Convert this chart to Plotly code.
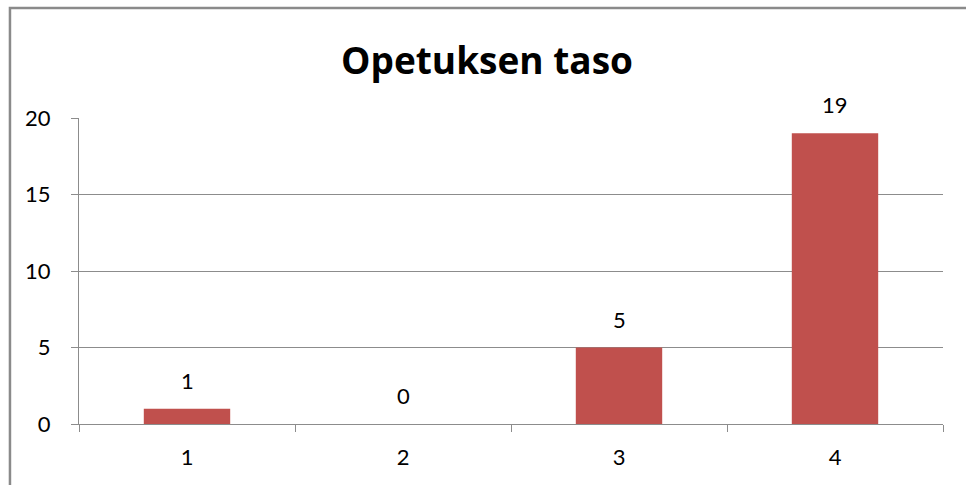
import plotly.graph_objects as go

categories = ["1", "2", "3", "4"]
values = [1, 0, 5, 19]
y_ticks = [0, 5, 10, 15, 20]

BAR = "#c0504d"
GRID = "#8c8c8c"
FONT = "Lato, Open Sans, sans-serif"

fig = go.Figure()
fig.add_trace(go.Bar(x=categories, y=values, marker=dict(color=BAR, line=dict(width=0)),
                     width=0.4, hoverinfo="skip"))

for i, v in enumerate(values):
    fig.add_annotation(x=i, y=v, text=str(v), showarrow=False, yanchor="bottom",
                       yshift=13, font=dict(family=FONT, size=22, color="#000"))

fig.add_shape(type="rect", xref="paper", yref="paper", x0=-0.0799, x1=1.2,
              y0=-0.5, y1=1.3595, line=dict(color="#8a8a8a", width=2.5), layer="above")

fig.update_layout(
    width=966, height=485,
    margin=dict(l=79, r=23, t=118, b=61, autoexpand=False),
    paper_bgcolor="white", plot_bgcolor="white",
    showlegend=False,
    title=dict(text="<b>Opetuksen taso</b>", x=487/966, xref="container", y=1 - 61/485,
               yanchor="middle", xanchor="center",
               font=dict(family="Open Sans, sans-serif", size=37, color="#000")),
    xaxis=dict(type="category", showgrid=False, showline=True, linecolor=GRID, linewidth=1,
               ticks="outside", tickson="boundaries", ticklen=7, tickcolor=GRID,
               tickfont=dict(family=FONT, size=22, color="#000"), ticklabelstandoff=14,
               range=[-0.5, 3.5], fixedrange=True),
    yaxis=dict(range=[0, 20], tickvals=y_ticks, showgrid=True, gridcolor=GRID, gridwidth=1,
               showline=True, linecolor=GRID, linewidth=1, ticks="outside", ticklen=7,
               tickcolor=GRID, tickfont=dict(family=FONT, size=22, color="#000"),
               ticklabelstandoff=16, zeroline=False, fixedrange=True),
)

fig.write_html("out.html", config={"displayModeBar": False},
               post_script="document.body.style.margin='0';document.body.style.overflow='hidden';")
